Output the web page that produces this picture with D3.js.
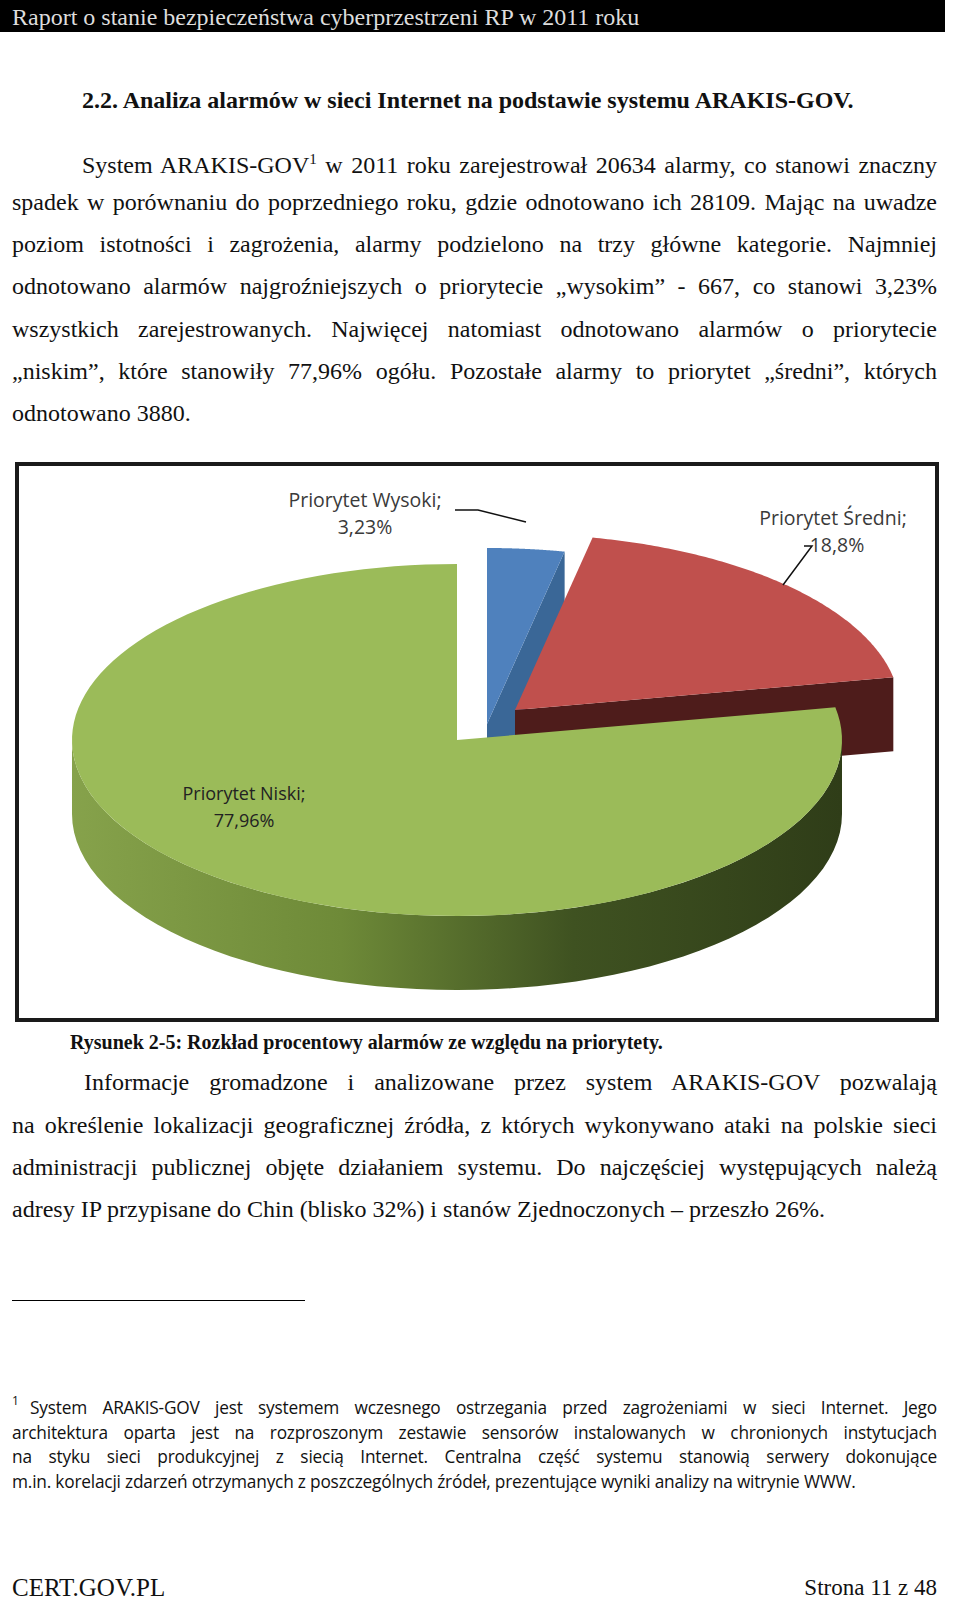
<!DOCTYPE html>
<html><head><meta charset="utf-8">
<script src="https://cdn.jsdelivr.net/npm/d3@7"></script>
<style>
body{margin:0;width:960px;height:1597px;background:#fff;position:relative;overflow:hidden;font-family:"Liberation Serif","Times New Roman",serif;}
.l{position:absolute;white-space:nowrap;line-height:24px;font-size:24px;color:#111;}
.j{text-align:justify;text-align-last:justify;white-space:normal;}
.fn{font-family:"Open Sans","Noto Sans",sans-serif;font-size:17.3px;line-height:18px;color:#111;letter-spacing:-0.2px;}
</style></head><body>
<div style="position:absolute;left:0;top:0;width:945px;height:32px;background:#000"></div>
<div id="page"></div>
<svg id="chart" style="position:absolute;left:0;top:0" width="960" height="1597"></svg>
<script>
const categories = ["Priorytet Wysoki", "Priorytet Średni", "Priorytet Niski"];
const values = [3.23, 18.8, 77.96];
const valueLabels = ["3,23%", "18,8%", "77,96%"];

const para1 = [
 ["System ARAKIS-GOV<sup style='font-size:15px'>1</sup> w 2011 roku zarejestrował 20634 alarmy, co stanowi znaczny",82,167,true],
 ["spadek w porównaniu do poprzedniego roku, gdzie odnotowano ich 28109. Mając na uwadze",12,210,true],
 ["poziom istotności i zagrożenia, alarmy podzielono na trzy główne kategorie. Najmniej",12,252,true],
 ["odnotowano alarmów najgroźniejszych o priorytecie „wysokim” - 667, co stanowi 3,23%",12,294,true],
 ["wszystkich zarejestrowanych. Najwięcej natomiast odnotowano alarmów o priorytecie",12,337,true],
 ["„niskim”, które stanowiły 77,96% ogółu. Pozostałe alarmy to priorytet „średni”, których",12,379,true],
 ["odnotowano 3880.",12,421,false],
 ["Informacje gromadzone i analizowane przez system ARAKIS-GOV pozwalają",84,1090,true],
 ["na określenie lokalizacji geograficznej źródła, z których wykonywano ataki na polskie sieci",12,1133,true],
 ["administracji publicznej objęte działaniem systemu. Do najczęściej występujących należą",12,1175,true],
 ["adresy IP przypisane do Chin (blisko 32%) i stanów Zjednoczonych – przeszło 26%.",12,1217,false]
];
const foot = [
 ["System ARAKIS-GOV jest systemem wczesnego ostrzegania przed zagrożeniami w sieci Internet. Jego",30,1413,true],
 ["architektura oparta jest na rozproszonym zestawie sensorów instalowanych w chronionych instytucjach",12,1438,true],
 ["na styku sieci produkcyjnej z siecią Internet. Centralna część systemu stanowią serwery dokonujące",12,1462,true],
 ["m.in. korelacji zdarzeń otrzymanych z poszczególnych źródeł, prezentujące wyniki analizy na witrynie WWW.",12,1487,false]
];
const page = d3.select("#page");
function line(t,x,b,j,cls,off){
  const d = page.append("div").attr("class","l "+(j?"j ":"")+(cls||"")).html(t)
   .style("left",x+"px").style("top",(b-off)+"px");
  if(j) d.style("width",(937-x)+"px");
  return d;
}
para1.forEach(p=>line(p[0],p[1],p[2],p[3],"",20));
foot.forEach(p=>line(p[0],p[1],p[2],p[3],"fn",14));
line("1",12,1406,false,"fn",14).style("font-size","12px");
line("Raport o stanie bezpieczeństwa cyberprzestrzeni RP w 2011 roku",12,25,false,"",20).style("color","#ddd");
line("2.2. Analiza alarmów w sieci Internet na podstawie systemu ARAKIS-GOV.",82,108,false,"",20).style("font-weight","bold");
line("Rysunek 2-5: Rozkład procentowy alarmów ze względu na priorytety.",70,1047,false,"",17).style("font-weight","bold").style("font-size","20px");
line("CERT.GOV.PL",12,1596,false,"",20).style("font-size","25px");
line("Strona 11 z 48",0,1596,false,"",20).style("left",null).style("right","23px").style("font-size","23px");
page.append("div").style("position","absolute").style("left","12px").style("top","1300px").style("width","293px").style("height","1px").style("background","#000");

// chart
const svg = d3.select("#chart");
svg.append("rect").attr("x",17).attr("y",464).attr("width",920).attr("height",556)
  .attr("fill","none").attr("stroke","#1a1a1a").attr("stroke-width",4);
const cx=457, cy=740, rx=385, ry=176, depth=74;
const explode=[[30,-16],[58,-30],[0,0]];
const topC=["#4F81BD","#C0504D","#9BBB59"];
const wallC=["#3A6797","#4E1C1B","url(#gg)"];
const defs=svg.append("defs");
const gg=defs.append("linearGradient").attr("id","gg");
gg.append("stop").attr("offset","0").attr("stop-color","#86a24b");
gg.append("stop").attr("offset","0.35").attr("stop-color","#6e8a38");
gg.append("stop").attr("offset","0.65").attr("stop-color","#3f5221");
gg.append("stop").attr("offset","1").attr("stop-color","#2f3d18");
const arcs=d3.pie().sort(null)(values);
const P=(a,ox,oy,dz)=>[cx+ox+rx*Math.sin(a), cy+oy-ry*Math.cos(a)+(dz||0)];
const line2=d3.line();
arcs.forEach((d,i)=>{
  const [ox,oy]=explode[i], a0=d.startAngle, a1=d.endAngle;
  const g=svg.append("g");
  const c=[cx+ox,cy+oy];
  if(Math.cos(a1+Math.PI/2)<-0.01){
    const r=P(a1,ox,oy);
    g.append("path").attr("d",line2([c,r,[r[0],r[1]+depth],[c[0],c[1]+depth]])+"Z").attr("fill",wallC[i]);
  }
  const lo=Math.max(a0,Math.PI/2), hi=Math.min(a1,Math.PI*1.5);
  if(hi>lo){
    const pts=d3.range(0,61).map(k=>lo+(hi-lo)*k/60);
    const top=pts.map(a=>P(a,ox,oy)), bot=pts.map(a=>P(a,ox,oy,depth)).reverse();
    g.append("path").attr("d",line2(top.concat(bot))+"Z").attr("fill",wallC[i]);
  }
  const pts=d3.range(0,121).map(k=>a0+(a1-a0)*k/120).map(a=>P(a,ox,oy));
  g.append("path").attr("d",line2([c].concat(pts))+"Z").attr("fill",topC[i]);
});
// labels
const lab=[[365,507,"#3a3a3a",19.5],[833,525,"#3a3a3a",19.5],[244,800,"#222",18]];
arcs.forEach((d,i)=>{
  const t=svg.append("text").attr("x",lab[i][0]).attr("y",lab[i][1]).attr("text-anchor","middle")
   .attr("font-family","Open Sans, Noto Sans, sans-serif").attr("font-size",lab[i][3]).attr("fill",lab[i][2]);
  if(i==2) t.attr("textLength",null);
  t.append("tspan").attr("x",lab[i][0]).text(categories[i]+";");
  t.append("tspan").attr("x",lab[i][0]+(i==1?4:0)).attr("dy",27).text(valueLabels[i]);
});
svg.append("path").attr("d","M455,510 L478,510 L526,522").attr("fill","none").attr("stroke","#111").attr("stroke-width",1.5);
svg.append("path").attr("d","M804,546 L812,546 L783,585").attr("fill","none").attr("stroke","#111").attr("stroke-width",1.5);
</script></body></html>
